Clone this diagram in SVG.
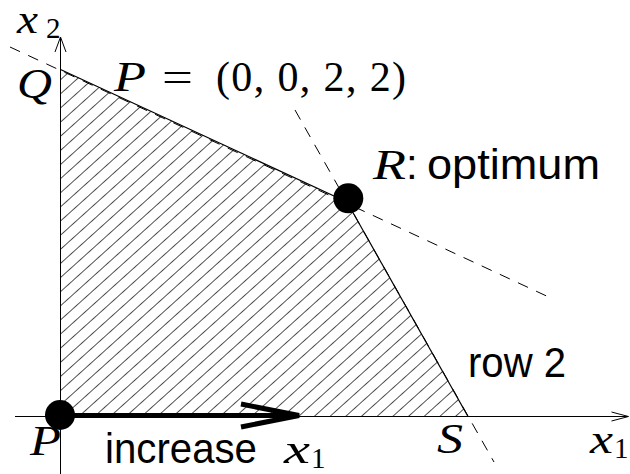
<svg xmlns="http://www.w3.org/2000/svg" width="630" height="474" viewBox="0 0 630 474">
<style>
.mi{font-family:"Liberation Serif","DejaVu Serif",serif;font-style:italic;font-size:42px;fill:#000}
.mn{font-family:"Liberation Serif","DejaVu Serif",serif;font-size:42px;fill:#000}
.sub{font-family:"Liberation Serif","DejaVu Serif",serif;font-size:29px;fill:#000}
.sf{font-family:"Liberation Sans","Arial",sans-serif;font-size:42px;fill:#000}
.axis{stroke:#000;stroke-width:1;fill:none}
.edge{stroke:#000;stroke-width:1.2;fill:none}
.dash{stroke:#000;stroke-width:1;fill:none;stroke-dasharray:11 9}
.dot{fill:#000}
</style>
<defs>
<pattern id="hatch" patternUnits="userSpaceOnUse" width="20" height="10.5" patternTransform="rotate(-42)">
<line x1="-1" y1="5.25" x2="21" y2="5.25" stroke="#222" stroke-width="0.8"/>
</pattern>
</defs>
<g id="region">
<polygon points="60.5,69.5 347,202 468,416.5 60.5,416.5" fill="url(#hatch)" stroke="none"/>
</g>
<g id="axes">
<line class="axis" x1="60.5" y1="37" x2="60.5" y2="474"/>
<polyline class="axis" points="55,52 60.5,37 66,52"/>
<line class="axis" x1="15" y1="416.5" x2="628" y2="416.5"/>
<polyline class="axis" points="611.5,412 628.5,416.5 611.5,421"/>
</g>
<g id="connectors">
<line class="dash" x1="10" y1="47" x2="553" y2="299"/>
<line class="dash" x1="295" y1="110" x2="494" y2="462"/>
<line class="edge" x1="60.5" y1="69.5" x2="347" y2="202"/>
<line class="edge" x1="347" y1="202" x2="468" y2="416.5"/>
</g>
<g id="arrow">
<line x1="60" y1="415.5" x2="298" y2="415.5" stroke="#000" stroke-width="5"/>
<polyline points="241,404 299,415.5 241,427" fill="none" stroke="#000" stroke-width="5"/>
</g>
<g id="node-P">
<circle class="dot" cx="60" cy="415" r="15"/>
<text class="mi" x="30" y="455" textLength="31" lengthAdjust="spacingAndGlyphs">P</text>
</g>
<g id="node-R">
<circle class="dot" cx="348.3" cy="198.3" r="15"/>
<text class="mi" x="373" y="179" textLength="33" lengthAdjust="spacingAndGlyphs">R</text>
<text class="sf" x="406" y="179">:</text>
<text class="sf" x="427" y="179" textLength="173" lengthAdjust="spacingAndGlyphs">optimum</text>
</g>
<g id="node-Q">
<text class="mi" x="17" y="98" textLength="35" lengthAdjust="spacingAndGlyphs">Q</text>
</g>
<g id="node-S">
<text class="mi" x="437" y="453" textLength="26" lengthAdjust="spacingAndGlyphs">S</text>
</g>
<g id="labels">
<text class="mi" x="17" y="33" textLength="21" lengthAdjust="spacingAndGlyphs">x</text>
<text class="sub" x="46" y="38">2</text>
<text class="mi" x="114" y="91" textLength="32" lengthAdjust="spacingAndGlyphs">P</text>
<text class="mn" x="162" y="91" textLength="31" lengthAdjust="spacingAndGlyphs">=</text>
<text class="mn" x="216" y="91" textLength="190" lengthAdjust="spacing">(0, 0, 2, 2)</text>
<text class="sf" x="468" y="377" textLength="98" lengthAdjust="spacingAndGlyphs">row 2</text>
<text class="sf" x="105" y="463" textLength="152" lengthAdjust="spacingAndGlyphs">increase</text>
<text class="mi" x="284" y="463" textLength="26" lengthAdjust="spacingAndGlyphs">x</text>
<text class="sub" x="311" y="468">1</text>
<text class="mi" x="590" y="453" textLength="23" lengthAdjust="spacingAndGlyphs">x</text>
<text class="sub" x="614" y="458">1</text>
</g>
</svg>
